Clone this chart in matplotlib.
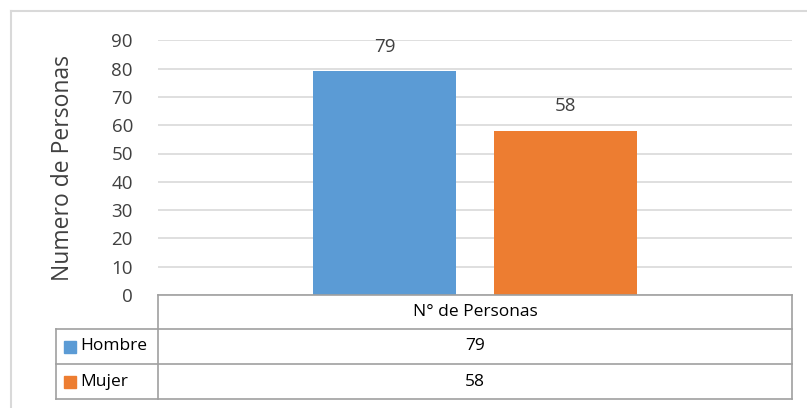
import matplotlib.pyplot as plt
from matplotlib.patches import Rectangle
from matplotlib.lines import Line2D

plt.rcParams['font.family'] = ['Open Sans', 'DejaVu Sans']

series = ['Hombre', 'Mujer']
valores = [79, 58]
categoria = 'N° de Personas'
colores = ['#5b9bd5', '#ed7d31']
yticks = [0, 10, 20, 30, 40, 50, 60, 70, 80, 90]

W, H = 807, 408
fig = plt.figure(figsize=(W / 100, H / 100), dpi=100)
fig.patch.set_facecolor('white')

def fx(px):
    return px / W

def fy(py):
    return 1 - py / H

# marco exterior (solo se ven arriba e izquierda)
fig.add_artist(Line2D([fx(11), fx(11)], [fy(11), 0], color='#d9d9d9', lw=1.5))
fig.add_artist(Line2D([fx(11), 1], [fy(11), fy(11)], color='#d9d9d9', lw=1.5))

left, right, top, bottom = 158, 792, 40.3, 295
ax = fig.add_axes([fx(left), fy(bottom), fx(right - left), (bottom - top) / H])
ax.set_xlim(-0.5, 0.5)
ax.set_ylim(0, 90)

ancho = 143 / 634
offs = [-0.1427, 0.1427]
for i in range(len(series)):
    ax.bar(offs[i], valores[i], width=ancho, color=colores[i], zorder=3)
    ax.text(offs[i], valores[i] + 8.8, str(valores[i]), ha='center', va='center',
            fontsize=13.5, color='#404040')

ax.set_yticks(yticks)
ax.set_xticks([])
ax.tick_params(axis='y', length=0, labelsize=13.5, labelcolor='#404040', pad=18)
ax.grid(axis='y', color='#d9d9d9', lw=1.2, zorder=0)
for s in ax.spines.values():
    s.set_visible(False)
ax.set_ylabel('Numero de Personas', fontsize=16.5, color='#404040', labelpad=26)

# tabla de datos
gris = '#a0a0a0'
filas = [295, 329, 364, 399]
tl = 56
def hline(x0, x1, y):
    fig.add_artist(Line2D([fx(x0), fx(x1)], [fy(y), fy(y)], color=gris, lw=1.2))
def vline(x, y0, y1):
    fig.add_artist(Line2D([fx(x), fx(x)], [fy(y0), fy(y1)], color=gris, lw=1.2))

hline(left, right, filas[0])
for y in filas[1:]:
    hline(tl, right, y)
vline(left, filas[0], filas[3])
vline(right, filas[0], filas[3])
vline(tl, filas[1], filas[3])

cx = (left + right) / 2
fig.text(fx(cx), fy((filas[0] + filas[1]) / 2), categoria, ha='center', va='center',
         fontsize=12.5, color='black')
for i in range(len(series)):
    yc = (filas[i + 1] + filas[i + 2]) / 2
    fig.add_artist(Rectangle((fx(64), fy(yc + 6)), fx(12), 12 / H, color=colores[i],
                             transform=fig.transFigure))
    fig.text(fx(80), fy(yc), series[i], ha='left', va='center', fontsize=12.5, color='black')
    fig.text(fx(cx), fy(yc), str(valores[i]), ha='center', va='center', fontsize=12.5,
             color='black')

fig.savefig('out.png', dpi=100)
